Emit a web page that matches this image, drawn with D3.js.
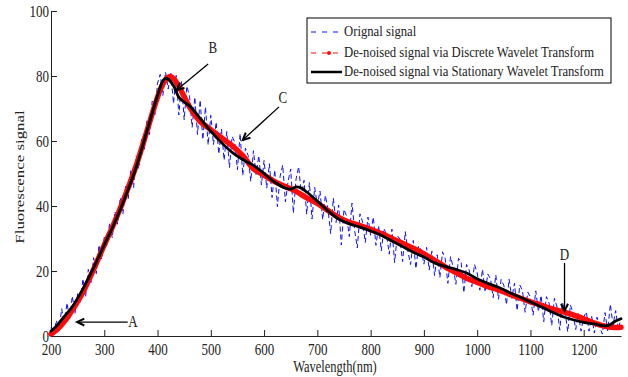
<!DOCTYPE html>
<html>
<head>
<meta charset="utf-8">
<script src="https://cdn.jsdelivr.net/npm/d3@7"></script>
<style>
  body { margin: 0; background: #fff; }
  text { font-family: "Liberation Serif", "Times New Roman", serif; fill: #222; }
</style>
</head>
<body>
<svg id="chart"></svg>
<script>
// wavelengths of the raw spectrum (nm)
const wavelength = d3.range(200, 1271, 5);

// raw (noisy) fluorescence signal, one value per wavelength
const original = [
  2.6, 0.2, 4.8, 1.6, 8.4, 3.5, 10.2, 5.1, 12.3, 7.0, 13.0, 10.1, 17.6, 12.2, 20.5, 16.4, 24.1, 19.2, 28.0, 23.6, 30.4,
  27.4, 34.8, 30.2, 38.3, 34.4, 42.6, 37.5, 46.1, 42.3, 51.2, 45.6, 55.4, 51.5, 60.5, 56.9, 66.2, 62.0, 72.3, 68.1, 77.8,
  80.5, 74.0, 81.2, 76.0, 80.8, 71.5, 80.2, 68.0, 78.5, 66.5, 76.9, 73.8, 64.2, 73.5, 62.0, 72.6, 60.4, 70.5, 58.8, 67.9,
  58.9, 65.8, 56.0, 63.7, 54.1, 62.9, 51.8, 61.4, 59.6, 51.2, 62.3, 49.4, 57.8, 55.6, 47.6, 57.0, 49.7, 55.5, 46.5, 54.0,
  45.5, 53.0, 42.6, 51.1, 39.8, 49.0, 52.6, 41.3, 47.5, 51.4, 37.8, 48.3, 52.1, 43.2, 47.9, 37.5, 47.2, 36.0, 45.7, 40.3,
  44.6, 35.8, 43.3, 38.9, 31.5, 42.4, 34.9, 40.3, 28.0, 39.0, 36.8, 30.6, 40.9, 32.5, 27.1, 37.6, 35.0, 28.8, 36.6, 31.0,
  36.6, 27.9, 34.0, 26.2, 33.1, 31.0, 25.2, 32.9, 22.6, 30.9, 29.8, 22.9, 32.1, 26.0, 22.0, 29.4, 20.7, 27.7, 26.5, 22.1,
  27.3, 20.3, 26.1, 18.6, 25.0, 18.0, 25.9, 23.8, 16.2, 24.4, 21.2, 15.9, 23.9, 22.6, 13.3, 22.0, 20.3, 15.2, 22.0, 19.5,
  14.1, 20.5, 13.5, 19.1, 17.6, 11.8, 18.8, 11.3, 17.4, 15.6, 9.6, 17.5, 11.6, 16.2, 7.8, 15.7, 14.0, 7.3, 13.5, 12.0,
  6.4, 13.9, 7.5, 12.5, 4.4, 12.1, 10.1, 3.2, 11.6, 8.9, 1.8, 10.3, 7.6, 1.3, 9.5, 7.1, 2.0, 6.9, 1.5, 5.9,
  7.4, 1.5, 6.0, 0.9, 5.8, 2.8, 0.6, 7.2, 1.6, 9.8, 3.3, 7.8, 2.0, 5.6
];

// discrete wavelet transform result
const dwtX = [200,210,220,230,240,260,280,300,320,340,360,380,400,410,420,425,430,440,460,480,
  500,520,540,560,580,600,620,640,660,680,700,720,740,760,780,800,820,840,860,880,900,920,940,960,980,
  1000,1020,1040,1060,1080,1100,1120,1140,1160,1180,1200,1220,1240,1260,1270];
const dwtY = [0.6,1.8,3.5,5.5,8,13.5,20.5,28,35.3,43.5,52.5,63,73.5,77.5,79.6,79.8,79.2,76.8,70.5,66,
  63.5,61,58.6,55.5,51.5,49.5,47.5,46,44.5,42.5,40.8,38.6,36.5,35,34,32.8,31.5,30,28.5,27,25.3,23.3,21.3,19.5,17.8,
  16.5,15.2,14.2,12.9,11.7,10.5,9.5,8.4,7.5,6.5,5.3,4,3,2.6,2.7];

// stationary wavelet transform result
const swtX = [200,210,220,230,240,260,280,300,320,340,360,380,400,410,415,420,430,440,450,460,470,480,
  500,520,540,560,580,600,620,640,650,660,670,680,700,720,740,760,780,800,820,840,860,880,900,920,940,960,980,
  1000,1020,1040,1060,1080,1100,1120,1140,1160,1180,1200,1220,1240,1250,1260,1270];
const swtY = [1.5,3,5,7,9,14.5,21,28,35,43,52,63,74,78.5,79.3,79,77,73.5,72,70.8,69,67,
  63,59.5,56.5,54.3,52.5,50,47.3,45.5,45.2,45.9,45.5,44.3,41.5,38.5,36,34.5,33.5,32.3,31,29.2,27.5,25.8,24.3,22.5,21.4,20.5,19.4,
  17.6,16.2,15,13.4,12,10.5,9,7.4,6,5,4.2,3.7,3.1,3.5,4.6,5.3];

const xTicks = [200,300,400,500,600,700,800,900,1000,1100,1200];
const yTicks = [0,20,40,60,80,100];

const legendLabels = ["Orignal signal",
  "De-noised signal via Discrete Wavelet Transform",
  "De-noised signal via Stationary Wavelet Transform"];

// annotation letters: label position and arrow (data units)
const notes = [
  { label: "A", at: [354, 4.3], from: [344, 4.3], to: [249, 4.3] },
  { label: "B", at: [504, 88.4], from: [495, 83.7], to: [436, 75.7] },
  { label: "C", at: [635, 73.0], from: [628, 70.5], to: [560, 60.3] },
  { label: "D", at: [1164, 24.9], from: [1164, 22.5], to: [1164, 7.7] }
];

const width = 628, height = 377;
const SY = 1.35; // the source figure's text is vertically stretched

const svg = d3.select("#chart")
  .attr("width", width)
  .attr("height", height);

const x = d3.scaleLinear([200, 1270], [51, 621]);
const y = d3.scaleLinear([0, 100], [336, 11]);

// axes
const xAxis = d3.axisBottom(x).tickValues(xTicks).tickFormat(d3.format("d"))
  .tickSizeInner(-6).tickSizeOuter(0);
const yAxis = d3.axisLeft(y).tickValues(yTicks).tickFormat(d3.format("d"))
  .tickSizeInner(-6).tickSizeOuter(0);

const xg = svg.append("g")
  .attr("transform", "translate(0,336)")
  .call(xAxis);
xg.selectAll(".tick text")
  .attr("y", 0).attr("dy", null)
  .attr("transform", `translate(0,${19}) scale(1,${SY})`)
  .style("font-size", "13px");

const yg = svg.append("g")
  .attr("transform", "translate(51,0)")
  .call(yAxis);
yg.selectAll(".tick text")
  .attr("x", 0).attr("dy", "0.34em")
  .attr("transform", `translate(-2,0) scale(1,${SY})`)
  .style("font-size", "13px");

svg.selectAll(".domain, .tick line").attr("stroke", "#222").attr("stroke-width", 1);
svg.selectAll(".tick text").attr("fill", "#222").style("font-family", '"Liberation Serif", serif');

// axis titles
svg.append("text")
  .attr("transform", `translate(335,372) scale(1,${SY})`)
  .attr("text-anchor", "middle")
  .style("font-size", "12.5px")
  .text("Wavelength(nm)");

svg.append("text")
  .attr("transform", `translate(24,177) rotate(-90) scale(${SY},1)`)
  .attr("text-anchor", "middle")
  .style("font-size", "12.5px")
  .text("Fluorescence signal");

// series
const rawLine = d3.line()
  .x((d, i) => x(wavelength[i]))
  .y(d => y(d));

svg.append("path")
  .datum(original)
  .attr("fill", "none")
  .attr("stroke", "#0f0fff")
  .attr("stroke-width", 1)
  .attr("stroke-dasharray", "5,3")
  .attr("d", rawLine);

const smooth = (xs) => d3.line()
  .x((d, i) => x(xs[i]))
  .y(d => y(d))
  .curve(d3.curveCatmullRom);

svg.append("path")
  .datum(dwtY)
  .attr("fill", "none")
  .attr("stroke", "#ff0a0a")
  .attr("stroke-width", 5.5)
  .attr("stroke-linejoin", "round")
  .attr("stroke-linecap", "round")
  .attr("d", smooth(dwtX));

svg.append("path")
  .datum(swtY)
  .attr("fill", "none")
  .attr("stroke", "#000")
  .attr("stroke-width", 2.8)
  .attr("stroke-linejoin", "round")
  .attr("stroke-linecap", "round")
  .attr("d", smooth(swtX));

// annotations
const ann = svg.append("g");
notes.forEach(n => {
  const x1 = x(n.from[0]), y1 = y(n.from[1]);
  const x2 = x(n.to[0]), y2 = y(n.to[1]);
  const a = Math.atan2(y2 - y1, x2 - x1);
  const h = 8, s = 0.45;
  ann.append("line")
    .attr("x1", x1).attr("y1", y1).attr("x2", x2).attr("y2", y2)
    .attr("stroke", "#000").attr("stroke-width", 1.3);
  ann.append("path")
    .attr("d", `M${x2 - h * Math.cos(a - s)},${y2 - h * Math.sin(a - s)}L${x2},${y2}L${x2 - h * Math.cos(a + s)},${y2 - h * Math.sin(a + s)}`)
    .attr("fill", "none").attr("stroke", "#000").attr("stroke-width", 2);
  ann.append("text")
    .attr("transform", `translate(${x(n.at[0])},${y(n.at[1]) + 4.5}) scale(1,${SY})`)
    .attr("text-anchor", "middle")
    .style("font-size", "13px")
    .text(n.label);
});

// legend
const lg = svg.append("g").attr("transform", "translate(307,18)");
lg.append("rect")
  .attr("width", 304).attr("height", 65)
  .attr("fill", "#fff").attr("stroke", "#000").attr("stroke-width", 1);

const rowY = [14, 35, 54];
lg.append("line").attr("x1", 4).attr("x2", 34).attr("y1", rowY[0]).attr("y2", rowY[0])
  .attr("stroke", "#0f0fff").attr("stroke-dasharray", "5,6");
lg.append("line").attr("x1", 4).attr("x2", 34).attr("y1", rowY[1]).attr("y2", rowY[1])
  .attr("stroke", "#ff0a0a").attr("stroke-dasharray", "5,6");
lg.append("circle").attr("cx", 22).attr("cy", rowY[1]).attr("r", 2).attr("fill", "#ff0a0a");
lg.append("line").attr("x1", 4).attr("x2", 35).attr("y1", rowY[2]).attr("y2", rowY[2])
  .attr("stroke", "#000").attr("stroke-width", 2.5);

lg.selectAll("text.leg")
  .data(legendLabels)
  .join("text")
  .attr("class", "leg")
  .attr("transform", (d, i) => `translate(37,${rowY[i] + 4}) scale(1,${SY * 0.9})`)
  .style("font-size", "12.7px")
  .text(d => d);
</script>
</body>
</html>
